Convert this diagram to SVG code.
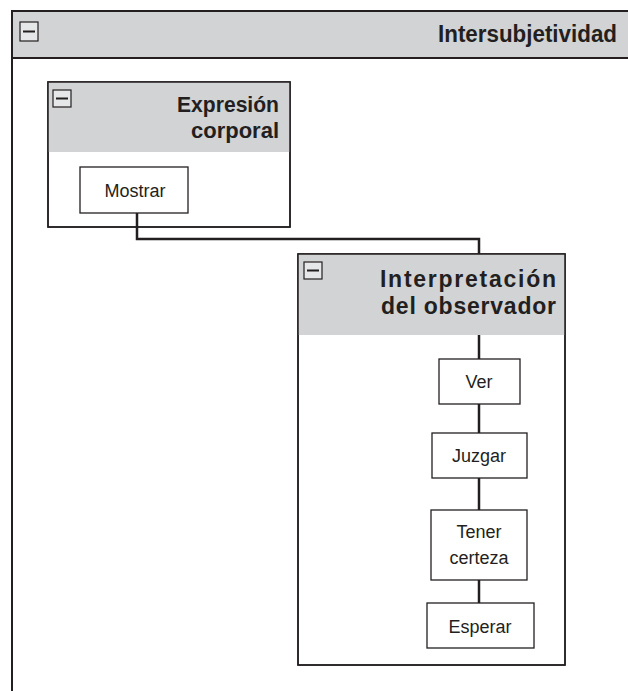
<svg xmlns="http://www.w3.org/2000/svg" width="628" height="691" viewBox="0 0 628 691">
<style>
.frame{fill:#ffffff;stroke:#231f20;stroke-width:1.5}
.hdr{fill:#d1d3d4;stroke:#231f20;stroke-width:1.5}
.icon{fill:#e6e7e8;stroke:#231f20;stroke-width:1.2}
.minus{stroke:#231f20;stroke-width:2}
.box{fill:#ffffff;stroke:#231f20;stroke-width:1.3}
.title{font-family:"Liberation Sans",Arial,sans-serif;font-weight:bold;fill:#231f20;text-anchor:end}
.lbl{font-family:"Liberation Sans",Arial,sans-serif;font-size:18px;fill:#231f20;text-anchor:middle}
.conn{fill:none;stroke:#231f20;stroke-width:2.5}
</style>
<g id="intersubjetividad">
<rect class="frame" x="12" y="11" width="630" height="700" style="stroke-width:2"/>
<rect class="hdr" x="12" y="11" width="630" height="47" style="stroke-width:2"/>
<rect class="icon" x="20" y="22" width="18" height="19"/>
<line class="minus" x1="23" y1="31.5" x2="35" y2="31.5"/>
<text class="title" x="617" y="42" font-size="23" textLength="179" lengthAdjust="spacingAndGlyphs">Intersubjetividad</text>
</g>
<g id="expresion">
<rect class="frame" x="48" y="82" width="242" height="145"/>
<rect class="hdr" x="48" y="82" width="242" height="70" style="stroke:none"/>
<rect x="48" y="82" width="242" height="145" fill="none" stroke="#231f20" stroke-width="1.5"/>
<rect class="icon" x="53" y="90" width="18" height="17"/>
<line class="minus" x1="56" y1="98.5" x2="68" y2="98.5"/>
<text class="title" x="279" y="112" font-size="22" textLength="102" lengthAdjust="spacingAndGlyphs">Expresión</text>
<text class="title" x="279" y="138" font-size="22">corporal</text>
</g>
<g id="mostrar">
<rect class="box" x="80" y="167" width="108" height="46"/>
<text class="lbl" x="135" y="197">Mostrar</text>
</g>
<g id="interpretacion">
<rect class="frame" x="298" y="254" width="267" height="411"/>
<rect class="hdr" x="298" y="254" width="267" height="81" style="stroke:none"/>
<rect x="298" y="254" width="267" height="411" fill="none" stroke="#231f20" stroke-width="1.5"/>
<rect class="icon" x="304" y="262" width="18" height="17"/>
<line class="minus" x1="307" y1="270.5" x2="319" y2="270.5"/>
<text class="title" x="556" y="287" font-size="23" textLength="176" lengthAdjust="spacing">Interpretación</text>
<text class="title" x="556" y="314" font-size="23" textLength="175" lengthAdjust="spacing">del observador</text>
</g>
<g id="connectors">
<path class="conn" d="M137 213 V239 H479 V254"/>
<path class="conn" d="M479 335 V359"/>
<path class="conn" d="M479 404 V433"/>
<path class="conn" d="M479 478 V510"/>
<path class="conn" d="M479 580 V603"/>
</g>
<g id="ver">
<rect class="box" x="439" y="359" width="81" height="45"/>
<text class="lbl" x="479" y="388">Ver</text>
</g>
<g id="juzgar">
<rect class="box" x="432" y="433" width="95" height="45"/>
<text class="lbl" x="479" y="462">Juzgar</text>
</g>
<g id="tener">
<rect class="box" x="431" y="510" width="96" height="70"/>
<text class="lbl" x="479" y="538">Tener</text>
<text class="lbl" x="479" y="564">certeza</text>
</g>
<g id="esperar">
<rect class="box" x="427" y="603" width="107" height="45"/>
<text class="lbl" x="480" y="633">Esperar</text>
</g>
</svg>
